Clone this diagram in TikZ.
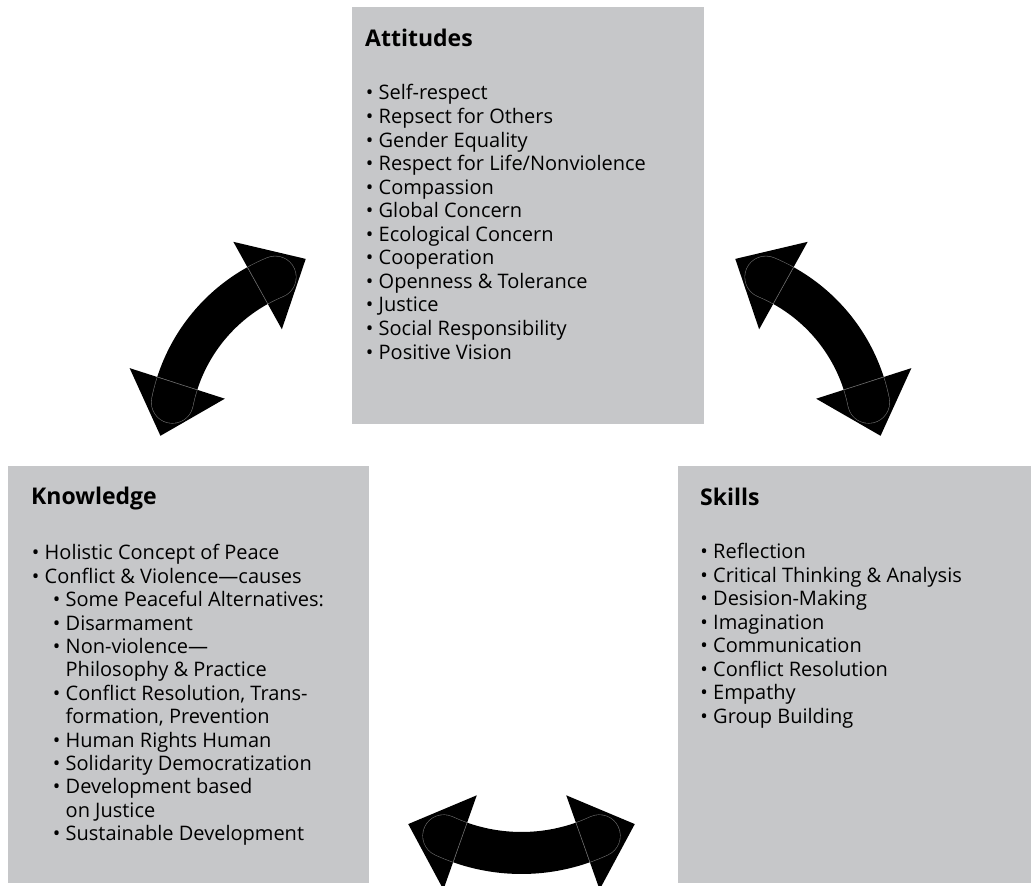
\documentclass[tikz,border=0pt]{standalone}
\usepackage{fontspec}
\setmainfont{Open Sans}
\definecolor{boxgray}{RGB}{198,199,201}
\definecolor{txt}{RGB}{0,0,0}
\definecolor{seam}{RGB}{105,105,105}
\tikzset{
  x=1pt, y=1pt,
  box/.style={fill=boxgray, draw=none, anchor=north west, inner sep=0pt, outer sep=0pt},
  ttl/.style={anchor=base west, inner sep=0pt, font=\fontsize{23}{28}\selectfont\bfseries, text=txt},
  itm/.style={anchor=base west, inner sep=0pt, font=\fontsize{20}{23.5}\selectfont, text=txt},
  arrowfill/.style={fill=black},
  shaft/.style={draw=black, line width=42pt},
  seamout/.style={draw=seam, line width=42.6pt, line cap=round},
  seamin/.style={draw=black, line width=41.4pt, line cap=round},
  seambase/.style={draw=seam, line width=0.6pt},
}
\newcommand\bul{\llap{•\ }}
\newcommand\myhead[6]{% #1 center, #2 base angle, #3 tip angle, #4 R, #5 tip radius, #6 extended angle
  \fill[arrowfill] ([shift={(#2:#4-50)}]#1) -- ([shift={(#3:#5)}]#1) -- ([shift={(#2:#4+50)}]#1) -- cycle;
  \begin{scope}
    \clip ([shift={(#2:#4-50)}]#1) -- ([shift={(#3:#5)}]#1) -- ([shift={(#2:#4+50)}]#1) -- cycle;
    \draw[seamout] ([shift={(#2:#4)}]#1) arc[start angle=#2, end angle=#6, radius=#4];
    \draw[seamin] ([shift={(#2:#4)}]#1) arc[start angle=#2, end angle=#6, radius=#4];
  \end{scope}
  \draw[seambase] ([shift={(#2:#4-21)}]#1) -- ([shift={(#2:#4+21)}]#1);
}
\newcommand\curvedarrow[5]{% #1 center, #2 angle a, #3 angle b, #4 R, #5 ext
  \pgfmathsetmacro\mySg{(#2>#3)*2-1}%
  \pgfmathsetmacro\myDt{atan(55/#4)}%
  \pgfmathsetmacro\myTr{veclen(#4,55)}%
  \pgfmathsetmacro\myTa{#2+\mySg*\myDt}%
  \pgfmathsetmacro\myTb{#3-\mySg*\myDt}%
  \pgfmathsetmacro\myEa{#2+\mySg*#5}%
  \pgfmathsetmacro\myEb{#3-\mySg*#5}%
  \draw[shaft] ([shift={(#2:#4)}]#1) arc[start angle=#2, end angle=#3, radius=#4];
  \myhead{#1}{#2}{\myTa}{#4}{\myTr}{\myEa}
  \myhead{#1}{#3}{\myTb}{#4}{\myTr}{\myEb}
}
\begin{document}
\begin{tikzpicture}
\useasboundingbox (0,0) rectangle (1031,886);
\clip (0,0) rectangle (1031,886);

% boxes
\node[box, minimum width=352pt, minimum height=417pt] (att) at (352,879) {};
\node[box, minimum width=361pt, minimum height=417pt] (know) at (8,420) {};
\node[box, minimum width=353pt, minimum height=417pt] (skl) at (678,420) {};

% titles
\node[ttl] (attT) at (365,839) {Attitudes};
\node[ttl] (knowT) at (31,381) {Knowledge};
\node[ttl] (sklT) at (700,380) {Skills};

% attitudes items
\foreach \t [count=\i] in {Self-respect, Repsect for Others, Gender Equality,
  Respect for Life/Nonviolence, Compassion, Global Concern, Ecological Concern,
  Cooperation, Openness \& Tolerance, Justice, Social Responsibility, Positive Vision}
  \node[itm] (a\i) at (378.5,{786-(\i-1)*23.55}) {\bul \t};

% knowledge items
\foreach \x/\t [count=\i] in {44.5/\bul Holistic Concept of Peace,
  44.5/\bul Conflict \& Violence—causes,
  65.5/\bul Some Peaceful Alternatives:,
  65.5/\bul Disarmament,
  65.5/\bul Non-violence—,
  65.5/Philosophy \& Practice,
  {65.5/\bul Conflict Resolution, Trans-},
  {65.5/formation, Prevention},
  65.5/\bul Human Rights Human,
  65.5/\bul Solidarity Democratization,
  65.5/\bul Development based,
  65.5/on Justice,
  65.5/\bul Sustainable Development}
  \node[itm] (k\i) at (\x,{326-(\i-1)*23.4}) {\t};

% skills items
\foreach \t [count=\i] in {Reflection, Critical Thinking \& Analysis, Desision-Making,
  Imagination, Communication, Conflict Resolution, Empathy, Group Building}
  \node[itm] (s\i) at (713,{327-(\i-1)*23.5}) {\bul \t};

% arrow centres
\coordinate (cL) at (341,450);
\coordinate (cR) at (700,450);
\coordinate (cB) at (521.5,217);

\curvedarrow{cL}{162.2}{119}{172}{6.5}
\curvedarrow{cR}{17.8}{61}{172}{6.5}
\curvedarrow{cB}{250.5}{289.5}{184}{5.5}
\end{tikzpicture}
\end{document}
